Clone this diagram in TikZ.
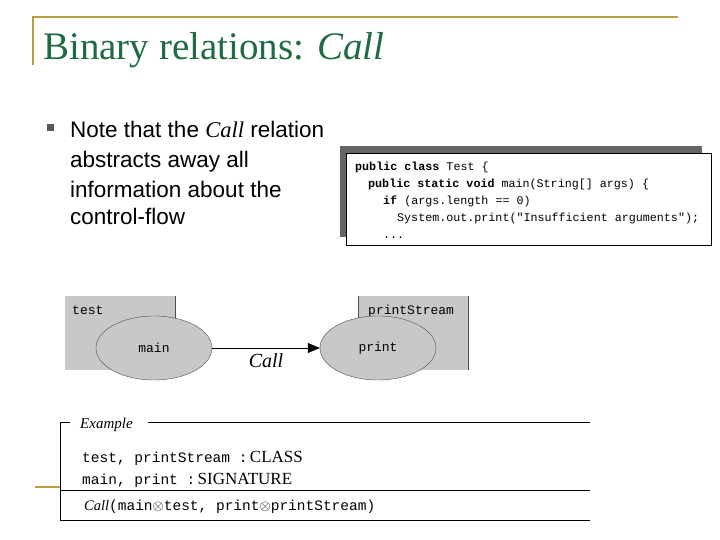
\documentclass[tikz,border=0pt]{standalone}
\usepackage{fontspec}
\setmainfont{Liberation Serif}
\setsansfont{Liberation Sans}
\setmonofont{Liberation Mono}
\usetikzlibrary{arrows.meta}
\definecolor{gold}{HTML}{B8A040}
\definecolor{titlegreen}{HTML}{1F6B42}
\definecolor{boxgray}{HTML}{C8C8C8}
\tikzset{
  txt/.style={anchor=base west, inner sep=0pt},
  code/.style={txt, font=\fontsize{11.7}{12}\selectfont\ttfamily},
  bul/.style={txt, font=\fontsize{22.5}{24}\selectfont\sffamily},
  ex/.style={txt, font=\fontsize{14.5}{16}\selectfont\ttfamily},
  oval/.style={draw=black!70, fill=boxgray, ellipse, minimum width=116pt, minimum height=64pt, inner sep=0pt, font=\fontsize{13}{14}\selectfont\ttfamily},
}
\usetikzlibrary{shapes.geometric}
\begin{document}
\begin{tikzpicture}[x=1pt,y=-1pt]
\useasboundingbox (0,0) rectangle (720,540);
% header
\draw[gold, line width=1.5pt] (33,65) -- (33,17) -- (678,17);
\node[txt, text=titlegreen, font=\fontsize{39}{42}\selectfont] (title) at (43,60) {Binary relations: \textit{Call}};
% bullet
\node[fill=black!65, minimum size=7pt, inner sep=0pt] (bsq) at (50,128) {};
\node[bul] (b1) at (70,138) {Note that the \textit{\rmfamily Call} relation};
\node[bul] (b2) at (70,168) {abstracts away all};
\node[bul] (b3) at (70,197) {information about the};
\node[bul] (b4) at (70,225) {control-flow};
% code box
\fill[black!60] (340,146) rectangle (702,237);
\draw[fill=white] (346,153) rectangle (711,245);
\node[code] (c1) at (355,171) {\textbf{public class} Test \{};
\node[code] (c2) at (368,188) {\textbf{public static void} main(String[] args) \{};
\node[code] (c3) at (383,205) {\textbf{if} (args.length == 0)};
\node[code] (c4) at (397,222) {System.out.print("Insufficient arguments");};
\node[code] (c5) at (383,239) {...};
% diagram
\fill[boxgray] (65,296) rectangle (175,370);
\draw[black!70] (175,296) -- (175,335);
\fill[boxgray] (358,296) rectangle (468,370);
\draw[black!70] (358,296) -- (358,335);
\draw[black!70] (468,296) -- (468,370);
\node[txt, font=\fontsize{13}{14}\selectfont\ttfamily] (tl) at (72,314) {test};
\node[txt, font=\fontsize{13}{14}\selectfont\ttfamily] (pl) at (368,314) {printStream};
\node[oval] (main) at (154,348) {main};
\node[oval] (print) at (378,348) {print};
\draw[-{Triangle[length=12pt,width=10pt]}] (main) -- (print) node[midway, below=2pt, font=\fontsize{20}{22}\selectfont\itshape] (call) {Call};
% example
\draw[gold, line width=1.5pt] (35,487) -- (60,487);
\draw (148,422) -- (590,422);
\draw (70,422) -- (60,422) -- (60,520) -- (590,520);
\draw (60,490) -- (590,490);
\node[txt, font=\fontsize{15}{16}\selectfont\itshape] (exl) at (80,428) {Example};
\node[ex] (e1) at (82,462) {test, printStream :\,\textrm{\fontsize{17}{18}\selectfont CLASS}};
\node[ex] (e2) at (82,484) {main, print :\,\textrm{\fontsize{17}{18}\selectfont SIGNATURE}};
\node[ex] (e3) at (84,510) {\textrm{\itshape Call}(main$\otimes$test, print$\otimes$printStream)};
\end{tikzpicture}
\end{document}
